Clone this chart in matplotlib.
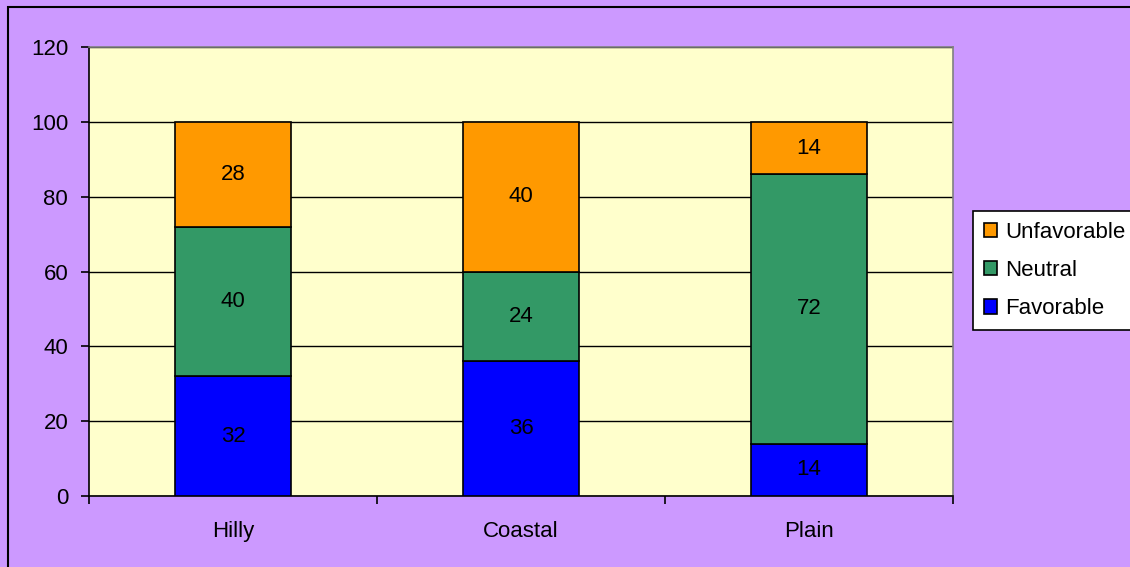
import numpy as np
import matplotlib.pyplot as plt
from matplotlib.patches import Rectangle

regions = ["Hilly", "Coastal", "Plain"]
favorable = [32, 36, 14]
neutral = [40, 24, 72]
unfavorable = [28, 40, 14]

plt.rcParams['font.family'] = ['Liberation Sans', 'DejaVu Sans']
fs = 16

fig = plt.figure(figsize=(11.3, 5.67), dpi=100, facecolor='#CC99FF')
# outer frame (runs off the right and bottom edges)
fig.patches.append(Rectangle((8/1130, -0.1), 1.2, 560/567 + 0.1, transform=fig.transFigure,
                             fill=False, edgecolor='black', linewidth=1.5))

ax = fig.add_axes([89/1130, 71/567, 864/1130, 449/567])
ax.set_facecolor('#FFFFCC')

x = np.arange(len(regions))
w = 0.4
colors = {'Favorable': '#0000FF', 'Neutral': '#339966', 'Unfavorable': '#FF9900'}

bottom = np.zeros(len(regions))
handles = {}
for name, vals in [('Favorable', favorable), ('Neutral', neutral), ('Unfavorable', unfavorable)]:
    vals = np.array(vals)
    bars = ax.bar(x, vals, w, bottom=bottom, color=colors[name], edgecolor='black',
                  linewidth=1.2, zorder=3, label=name)
    handles[name] = bars
    for xi, b, v in zip(x, bottom, vals):
        ax.text(xi, b + v / 2, str(v), ha='center', va='center', fontsize=fs, zorder=4)
    bottom = bottom + vals

ax.set_xlim(-0.5, 2.5)
ax.set_ylim(0, 120)
ax.set_yticks(range(0, 121, 20))
ax.yaxis.grid(True, color='black', linewidth=1)
ax.set_axisbelow(True)

# category boundary ticks on x
ax.set_xticks([-0.5, 0.5, 1.5, 2.5])
ax.set_xticklabels([])
ax.set_xticks(x, minor=True)
ax.set_xticklabels(regions, minor=True)
ax.tick_params(axis='x', which='minor', length=0, pad=18, labelsize=fs)
ax.tick_params(axis='x', which='major', direction='out', length=6, width=1.2)
ax.tick_params(axis='y', direction='out', length=6, width=1.2, labelsize=fs, pad=9)

for s in ['top', 'right']:
    ax.spines[s].set_color('#808080')
    ax.spines[s].set_linewidth(1.2)
for s in ['left', 'bottom']:
    ax.spines[s].set_color('black')
    ax.spines[s].set_linewidth(1.2)

leg = fig.legend([handles['Unfavorable'], handles['Neutral'], handles['Favorable']],
                 ['Unfavorable', 'Neutral', 'Favorable'],
                 loc='upper left', bbox_to_anchor=(973/1130, 1 - 211/567),
                 fontsize=fs, frameon=True, fancybox=False, edgecolor='black',
                 framealpha=1, handlelength=0.6, handleheight=0.6, handletextpad=0.35,
                 labelspacing=0.77, borderpad=0.5, borderaxespad=0)
leg.get_frame().set_linewidth(1.2)

fig.savefig('out.png', dpi=100, facecolor=fig.get_facecolor())
